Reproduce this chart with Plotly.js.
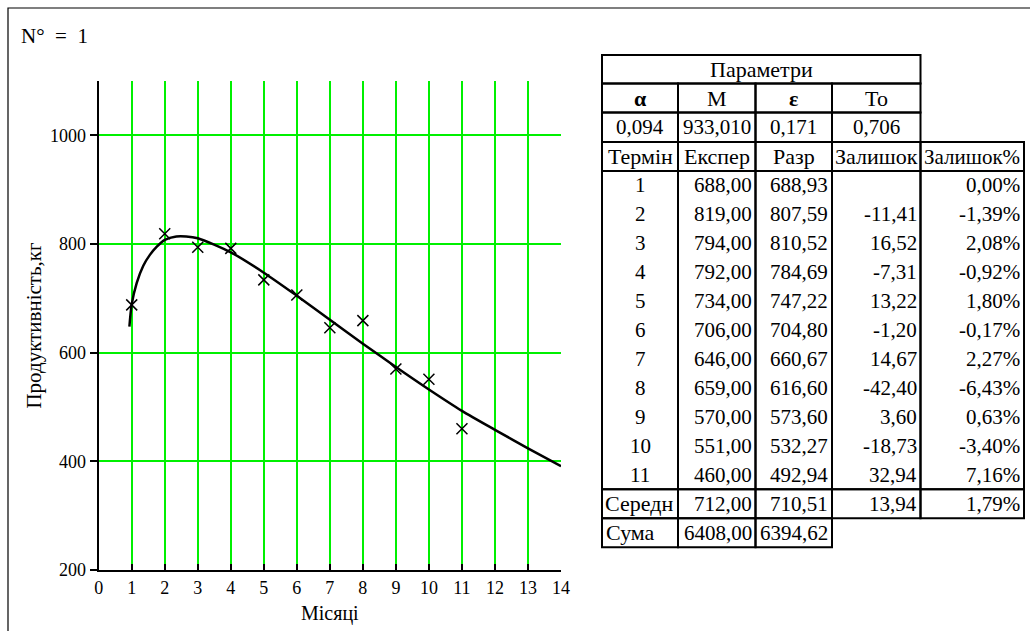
<!DOCTYPE html>
<html>
<head>
<meta charset="utf-8">
<script src="https://cdn.plot.ly/plotly-3.0.1.min.js"></script>
<style>html,body{margin:0;padding:0;background:#fff;}#chart{width:1030px;height:631px;}</style>
</head>
<body>
<div id="chart"></div>
<script>
// ---- Data ----
const months = [1, 2, 3, 4, 5, 6, 7, 8, 9, 10, 11];
const exper = [688.00, 819.00, 794.00, 792.00, 734.00, 706.00, 646.00, 659.00, 570.00, 551.00, 460.00];
const razr = [688.93, 807.59, 810.52, 784.69, 747.22, 704.80, 660.67, 616.60, 573.60, 532.27, 492.94];
const resid = [null, -11.41, 16.52, -7.31, 13.22, -1.20, 14.67, -42.40, 3.60, -18.73, 32.94];
const residPct = [0.00, -1.39, 2.08, -0.92, 1.80, -0.17, 2.27, -6.43, 0.63, -3.40, 7.16];

// fitted curve (table values at whole months, read values between)
const curveX = [0.93, 1, 1.15, 1.35, 1.55, 1.76, 2, 2.35, 2.65, 3, 4, 5, 6, 7, 8, 9, 10, 11, 12, 13, 14];
const curveY = [648, 688.93, 728, 760, 780, 795, 807.59, 814, 814, 810.52, 784.69, 747.22, 704.80, 660.67, 616.60, 573.60, 532.27, 492.94, 458, 424, 391];

const paramNames = ['<b>α</b>', 'M', '<b>ε</b>', 'To'];
const paramValues = ['0,094', '933,010', '0,171', '0,706'];
const paramTitle = 'Параметри';
const colHeaders = ['Термін', 'Експер', 'Разр', 'Залишок', 'Залишок%'];
const avgRow = ['Середн', '712,00', '710,51', '13,94', '1,79%'];
const sumRow = ['Сума', '6408,00', '6394,62'];
const caseLabel = 'N°  =  1';
const xTitle = 'Місяці';
const yTitle = 'Продуктивність,кг';
const xTicks = [0, 1, 2, 3, 4, 5, 6, 7, 8, 9, 10, 11, 12, 13, 14];
const yTicks = [200, 400, 600, 800, 1000];

// ---- Helpers (pixel -> paper) ----
const W = 1030, H = 631;
const px = x => x / W;
const py = y => 1 - y / H;
const fmt = v => v.toFixed(2).replace('.', ',');
const SERIF = 'Liberation Serif';
const NUM = 21, TXT = 22;

// ---- Table geometry ----
const colX = [602, 678, 755.5, 832, 920.5, 1024];
const rowP = [55, 83.5, 112.5, 142];
const hdrTop = 142, dataTop = 171, rowH = 28.94;
const dataBottom = dataTop + rowH * months.length;
const avgBottom = dataBottom + 29, sumBottom = avgBottom + 29;

const shapes = [];
const annotations = [];
const rect = (x0, y0, x1, y1, w) => shapes.push({type: 'rect', xref: 'paper', yref: 'paper',
  x0: px(x0), x1: px(x1), y0: py(y1), y1: py(y0), line: {color: '#000', width: w || 2}});
const txt = (text, x, y, anchor, size) => annotations.push({xref: 'paper', yref: 'paper', x: px(x), y: py(y),
  text: text, showarrow: false, xanchor: anchor, yanchor: 'middle', borderpad: 0,
  font: {family: SERIF, size: size || NUM, color: '#000'}});

// outer frame
rect(8, 8, 1040, 645, 1.2);

// parameter block
rect(colX[0], rowP[0], colX[4], rowP[1]);
txt(paramTitle, (colX[0] + colX[4]) / 2, (rowP[0] + rowP[1]) / 2, 'center', TXT);
for (let c = 0; c < 4; c++) {
  rect(colX[c], rowP[1], colX[c + 1], rowP[2]);
  rect(colX[c], rowP[2], colX[c + 1], rowP[3]);
  txt(paramNames[c], (colX[c] + colX[c + 1]) / 2, (rowP[1] + rowP[2]) / 2, 'center', TXT);
  txt(paramValues[c], (colX[c] + colX[c + 1]) / 2, (rowP[2] + rowP[3]) / 2, 'center');
}
// header, data, average rows
for (let c = 0; c < 5; c++) {
  rect(colX[c], hdrTop, colX[c + 1], dataTop);
  rect(colX[c], dataTop, colX[c + 1], dataBottom);
  rect(colX[c], dataBottom, colX[c + 1], avgBottom);
  txt(colHeaders[c], (colX[c] + colX[c + 1]) / 2, (hdrTop + dataTop) / 2, 'center', c === 4 ? 21 : TXT);
  if (c === 0) txt(avgRow[c], colX[c] + 2, (dataBottom + avgBottom) / 2, 'left', TXT);
  else txt(avgRow[c], colX[c + 1] - 3, (dataBottom + avgBottom) / 2, 'right');
}
for (let c = 0; c < 3; c++) {
  rect(colX[c], avgBottom, colX[c + 1], sumBottom);
  if (c === 0) txt(sumRow[c], colX[c] + 3, (avgBottom + sumBottom) / 2, 'left', TXT);
  else txt(sumRow[c], colX[c + 1] - 3, (avgBottom + sumBottom) / 2, 'right');
}
months.forEach((m, i) => {
  const yc = dataTop + rowH * (i + 0.5);
  txt(String(m), (colX[0] + colX[1]) / 2, yc, 'center');
  txt(fmt(exper[i]), colX[2] - 3, yc, 'right');
  txt(fmt(razr[i]), colX[3] - 3, yc, 'right');
  if (resid[i] !== null) txt(fmt(resid[i]), colX[4] - 3, yc, 'right');
  txt(fmt(residPct[i]) + '%', colX[5] - 3, yc, 'right');
});

// case label
txt(caseLabel, 20, 36, 'left', 21);

// ---- Traces ----
const traces = [
  {x: curveX, y: curveY, type: 'scatter', mode: 'lines', line: {color: '#000', width: 2.5, shape: 'spline', smoothing: 0.8},
   hoverinfo: 'skip', showlegend: false},
  {x: months, y: exper, type: 'scatter', mode: 'markers',
   marker: {symbol: 'x-thin', size: 11, color: '#000', line: {color: '#000', width: 1.5}}, showlegend: false}
];

const layout = {
  width: W, height: H,
  margin: {l: 0, r: 0, t: 0, b: 0},
  paper_bgcolor: '#fff', plot_bgcolor: '#fff',
  showlegend: false,
  font: {family: SERIF, color: '#000', size: 18},
  xaxis: {
    domain: [px(98.7), px(561)], range: [0, 14], tickvals: xTicks,
    showgrid: true, gridcolor: '#00f000', gridwidth: 2,
    showline: true, linecolor: '#000', linewidth: 2,
    ticks: 'inside', ticklen: 6, tickwidth: 2, tickcolor: '#000',
    zeroline: false, tickfont: {family: SERIF, size: 18},
    title: {text: xTitle, font: {family: SERIF, size: 20}, standoff: 9}
  },
  yaxis: {
    domain: [py(570), py(81)], range: [200, 1100], tickvals: yTicks,
    showgrid: true, gridcolor: '#00f000', gridwidth: 2,
    showline: true, linecolor: '#000', linewidth: 2,
    ticks: 'outside', ticklen: 7, tickwidth: 2, tickcolor: '#000',
    zeroline: false, tickfont: {family: SERIF, size: 18},
    title: {text: yTitle, font: {family: SERIF, size: 21}, standoff: 3}
  },
  shapes: shapes,
  annotations: annotations
};

Plotly.newPlot('chart', traces, layout, {displayModeBar: false, staticPlot: true});
</script>
</body>
</html>
